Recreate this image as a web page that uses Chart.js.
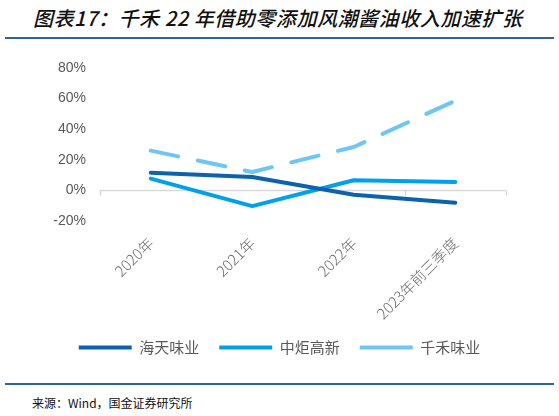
<!DOCTYPE html>
<html>
<head>
<meta charset="utf-8">
<script src="https://cdn.jsdelivr.net/npm/chart.js@4.4.0/dist/chart.umd.min.js"></script>
<style>
  body { margin: 0; background: #fff; }
  #page { position: relative; width: 559px; height: 416px; overflow: hidden; font-family: "Noto Sans CJK SC", sans-serif; }
  #title { position: absolute; left: 33px; top: 3px; font-size: 20px; font-weight: 500; font-style: italic; color: #111; white-space: nowrap; letter-spacing: 0.55px; }
  .rule { position: absolute; left: 5px; width: 549px; height: 2px; background: #2a6794; }
  #source { position: absolute; left: 32px; top: 394px; font-size: 12px; color: #111; white-space: nowrap; }
  #wrap { position: absolute; left: 0; top: 40px; width: 559px; height: 340px; }
</style>
</head>
<body>
<div id="page">
  <div id="title">图表17：千禾 22 年借助零添加风潮酱油收入加速扩张</div>
  <div class="rule" style="top:37px"></div>
  <div id="wrap"><canvas id="growth-chart"></canvas></div>
  <div class="rule" style="top:383px"></div>
  <div id="source">来源：Wind，国金证券研究所</div>
</div>
<script>
var categories = ['2020年', '2021年', '2022年', '2023年前三季度']
var haitian = [11.6, 8.7, -2.8, -8.0]
var zhongju = [7.7, -10.3, 6.6, 5.5]
var qianhe = [26.0, 12.0, 28.4, 58.6]
var yTicks = [-20, 0, 20, 40, 60, 80]

var tickGray = '#595959'

// short tick marks hanging off the zero line, like the original
var zeroTicks = {
    id: 'zeroTicks',
    beforeDatasetsDraw(chart) {
        const ctx = chart.ctx
        const x = chart.scales.x
        const y0 = chart.scales.y.getPixelForValue(0)
        ctx.save()
        ctx.strokeStyle = '#d9d9d9'
        ctx.lineWidth = 1.5
        ctx.beginPath()
        ctx.moveTo(x.left, y0)
        ctx.lineTo(x.right, y0)
        const step = (x.right - x.left) / categories.length
        for (let i = 0; i <= categories.length; i++) {
            const px = Math.round(x.left + step * i) + 0.5
            ctx.moveTo(px, y0)
            ctx.lineTo(px, y0 + 5)
        }
        ctx.stroke()
        ctx.restore()
    }
}

var growthChart
function setupChart() {
    const ctx = document.getElementById('growth-chart').getContext('2d')
    growthChart = new Chart(ctx, {
        type: 'line',
        data: {
            labels: categories,
            datasets: [
                {
                    label: '海天味业',
                    data: haitian,
                    borderColor: '#0d63ab',
                    backgroundColor: '#0d63ab',
                    borderWidth: 4,
                    pointRadius: 0,
                    borderCapStyle: 'round',
                    borderJoinStyle: 'round'
                },
                {
                    label: '中炬高新',
                    data: zhongju,
                    borderColor: '#00a1e9',
                    backgroundColor: '#00a1e9',
                    borderWidth: 4,
                    pointRadius: 0,
                    borderCapStyle: 'round',
                    borderJoinStyle: 'round'
                },
                {
                    label: '千禾味业',
                    data: qianhe,
                    borderColor: '#6ec6f5',
                    backgroundColor: '#6ec6f5',
                    borderWidth: 4,
                    borderDash: [28, 20],
                    pointRadius: 0,
                    borderCapStyle: 'round',
                    borderJoinStyle: 'round'
                }
            ]
        },
        options: {
            responsive: true,
            maintainAspectRatio: false,
            animation: false,
            layout: { padding: { top: 28, right: 0, bottom: 15, left: 0 } },
            plugins: {
                tooltip: { enabled: false },
                legend: {
                    position: 'bottom',
                    labels: {
                        boxWidth: 53,
                        boxHeight: 4,
                        padding: 20,
                        color: tickGray,
                        font: { size: 15, family: '"Noto Sans CJK SC", sans-serif' },
                        generateLabels: (chart) => chart.data.datasets.map((ds, i) => ({
                            text: ds.label,
                            fillStyle: ds.borderColor,
                            strokeStyle: ds.borderColor,
                            lineWidth: 0,
                            datasetIndex: i,
                            fontColor: tickGray
                        }))
                    }
                }
            },
            scales: {
                x: {
                    offset: true,
                    grid: { display: false },
                    border: { display: false },
                    afterFit: (scale) => { scale.height = 99 },
                    ticks: {
                        minRotation: 45,
                        maxRotation: 45,
                        padding: 5,
                        color: '#6a6a6a',
                        font: { size: 15, weight: 300, family: '"Noto Sans CJK SC", sans-serif' }
                    }
                },
                y: {
                    min: -20,
                    max: 80,
                    afterFit: (scale) => { scale.width = 100 },
                    afterBuildTicks: (scale) => { scale.ticks = yTicks.map((v) => ({ value: v })) },
                    grid: { display: false },
                    border: { display: false },
                    ticks: {
                        padding: 6,
                        color: tickGray,
                        font: { size: 14, family: 'Arial, "Liberation Sans", sans-serif' },
                        callback: (v) => v + '%'
                    }
                },
                // empty right-hand spacer so the legend stays centred on the page
                yRight: {
                    position: 'right',
                    min: -20,
                    max: 80,
                    afterFit: (scale) => { scale.width = 53 },
                    grid: { display: false },
                    border: { display: false },
                    ticks: { display: false }
                }
            }
        },
        plugins: [zeroTicks]
    })
}

setupChart()
</script>
</body>
</html>
